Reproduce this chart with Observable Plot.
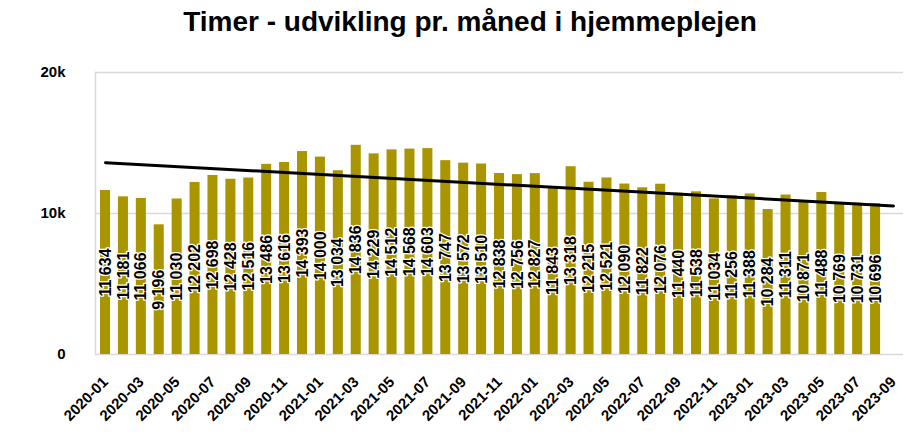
<!DOCTYPE html>
<html><head><meta charset="utf-8">
<script src="https://cdn.jsdelivr.net/npm/d3@7"></script>
<script src="https://cdn.jsdelivr.net/npm/@observablehq/plot@0.6"></script>
<style>
body{margin:0;background:#fff;font-family:"Liberation Sans",Arial,sans-serif;}
#title{height:44px;line-height:44px;text-align:center;font-weight:bold;font-size:28px;padding-left:34px;color:#000;}
</style></head><body>
<div id="title">Timer - udvikling pr. måned i hjemmeplejen</div>
<div id="chart"></div>
<script>
const months = ["2020-01","2020-02","2020-03","2020-04","2020-05","2020-06","2020-07","2020-08","2020-09","2020-10","2020-11","2020-12",
"2021-01","2021-02","2021-03","2021-04","2021-05","2021-06","2021-07","2021-08","2021-09","2021-10","2021-11","2021-12",
"2022-01","2022-02","2022-03","2022-04","2022-05","2022-06","2022-07","2022-08","2022-09","2022-10","2022-11","2022-12",
"2023-01","2023-02","2023-03","2023-04","2023-05","2023-06","2023-07","2023-08","2023-09"];
const hours = [11634,11181,11066,9196,11030,12202,12698,12428,12516,13486,13616,14393,
14000,13034,14836,14229,14512,14568,14603,13747,13572,13510,12838,12756,
12827,11843,13318,12215,12521,12090,11822,12076,11440,11538,11034,11256,
11388,10284,11311,10871,11488,10769,10731,10696];
const yTicks = [0,10000,20000];
const yTickLabels = ["0","10k","20k"];
const xTickLabels = months.filter((d,i)=>i%2===0);

const data = hours.map((v,i)=>({month:months[i], hours:v}));
// linear trend over every month on the axis (the empty last month counts as 0, as in the source chart)
const ys = months.map((m,i)=>hours[i] ?? 0);
const xs = d3.range(ys.length);
const mx = d3.mean(xs), my = d3.mean(ys);
const slope = d3.sum(xs, i=>(i-mx)*(ys[i]-my)) / d3.sum(xs, i=>(i-mx)**2);
const intercept = my - slope*mx;
const trend = [0, months.length-1].map(i=>({month:months[i], value:intercept+slope*i}));
const fmt = v => d3.format(",")(v).replace(",", "\u00a0");

const chart = Plot.plot({
  width:906, height:394,
  marginTop:28, marginBottom:84, marginLeft:95, marginRight:3,
  style:{fontFamily:"'Liberation Sans', Arial, sans-serif", fontWeight:"bold", color:"#000", background:"#fff"},
  x:{type:"band", domain:months, paddingInner:0.44, paddingOuter:0.28, label:null},
  y:{domain:[0,20000], label:null},
  marks:[
    Plot.gridY(yTicks,{stroke:"#d9d9d9", strokeOpacity:1, strokeWidth:1.5}),
    Plot.frame({anchor:"left", stroke:"#d9d9d9", strokeWidth:1.5}),
    Plot.barY(data,{x:"month", y:"hours", fill:"#a89500"}),
    Plot.line(trend,{x:"month", y:"value", stroke:"#000", strokeWidth:3}),
    Plot.text(data,{x:"month", y:d=>d.hours/2, text:d=>fmt(d.hours), rotate:-90, fontSize:16, fontWeight:"bold", fill:"#000", stroke:"#fff", strokeWidth:2.5}),
    Plot.axisY({ticks:yTicks, tickFormat:d=>yTickLabels[yTicks.indexOf(d)], tickSize:0, tickPadding:30, fontSize:15, fontWeight:"bold", label:null}),
    Plot.axisX({ticks:xTickLabels, tickRotate:-45, tickSize:0, tickPadding:25, fontSize:15, fontWeight:"bold", label:null})
  ]
});
document.getElementById("chart").appendChild(chart);
</script>
</body></html>
